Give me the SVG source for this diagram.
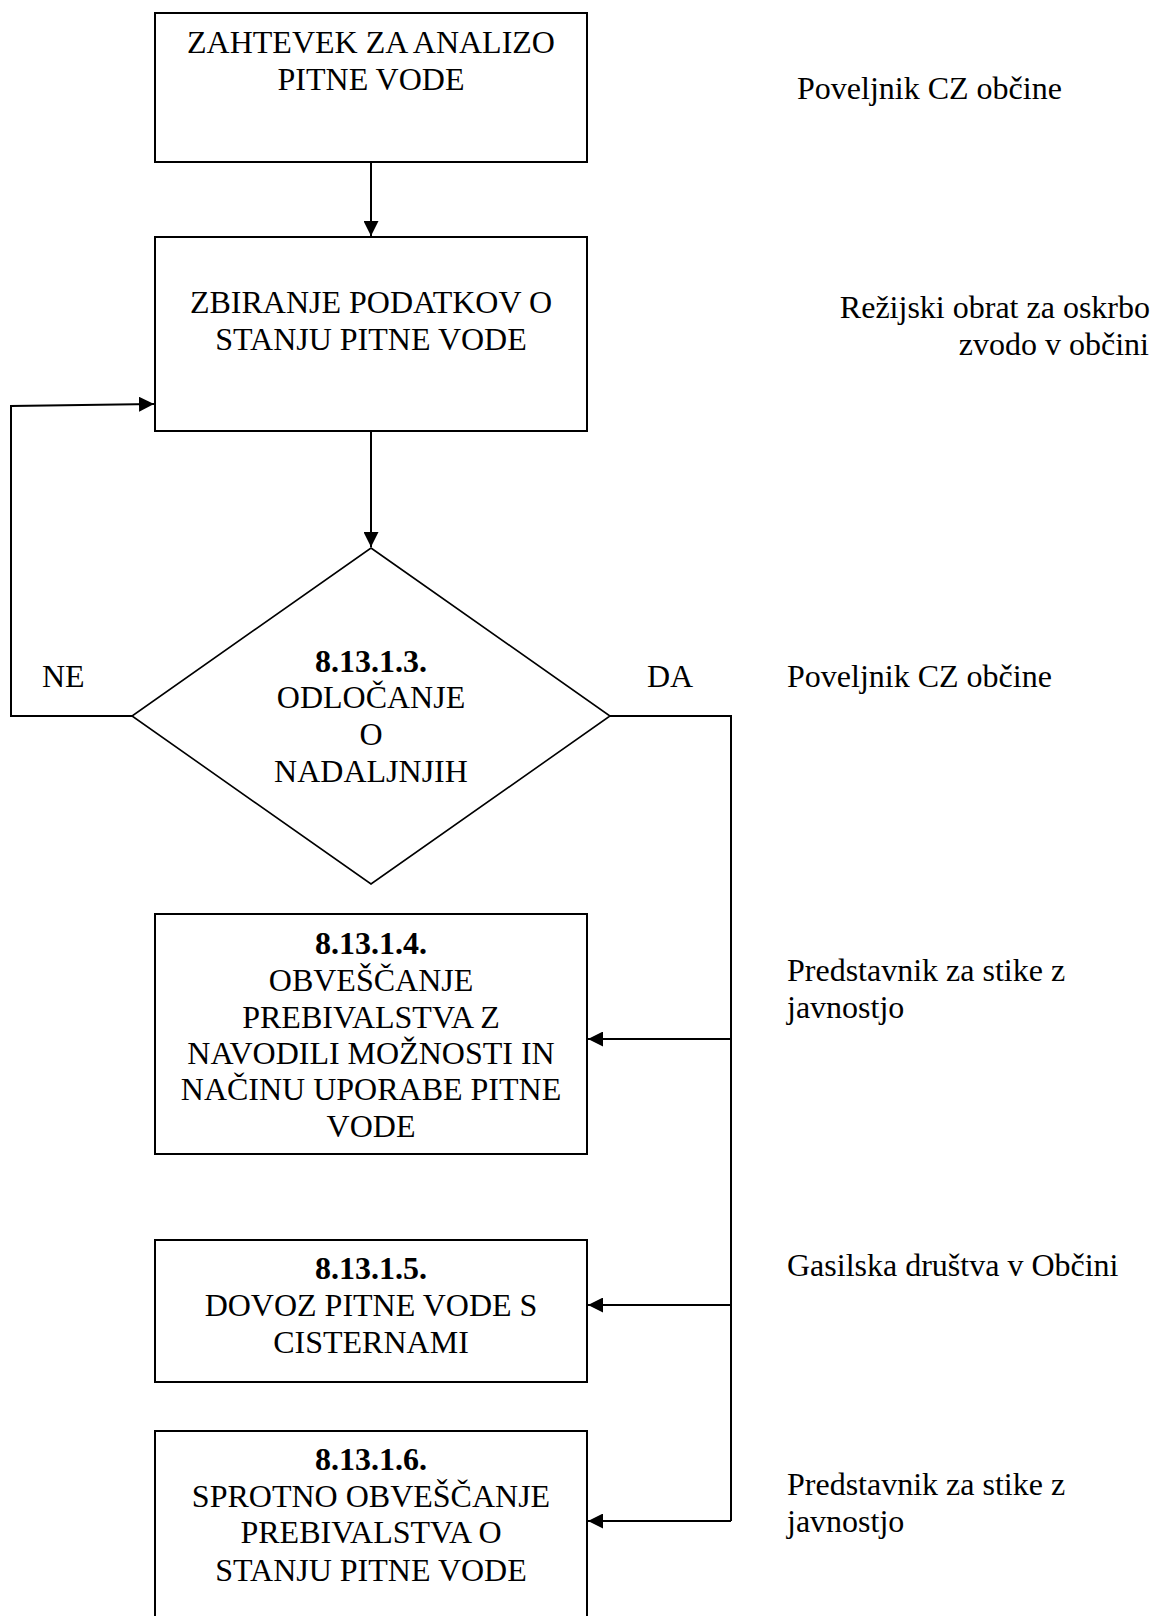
<svg xmlns="http://www.w3.org/2000/svg" width="1153" height="1616" viewBox="0 0 1153 1616">
<style>
.box{fill:#fff;stroke:#000;stroke-width:2}
.dia{fill:#fff;stroke:#000;stroke-width:1.6}
.ln{fill:none;stroke:#000;stroke-width:2}
text{font-family:"Liberation Serif","Times New Roman",serif;font-size:32px;fill:#000}
.c{text-anchor:middle}
.r{text-anchor:end}
.b{font-weight:bold}
</style>
<defs>
<marker id="ah" markerWidth="15" markerHeight="15" refX="15" refY="7.5" orient="auto" markerUnits="userSpaceOnUse">
<path d="M0,0 L15,7.5 L0,15 Z" fill="#000"/>
</marker>
</defs>
<rect width="1153" height="1616" fill="#fff"/>
<g id="connectors">
<line class="ln" x1="371" y1="162" x2="371" y2="236" marker-end="url(#ah)"/>
<line class="ln" x1="371" y1="431" x2="371" y2="547" marker-end="url(#ah)"/>
<polyline class="ln" points="132,716 11,716 11,406 154,404" marker-end="url(#ah)"/>
<polyline class="ln" points="610,716 731,716 731,1521"/>
<line class="ln" x1="731" y1="1039" x2="588" y2="1039" marker-end="url(#ah)"/>
<line class="ln" x1="731" y1="1305" x2="588" y2="1305" marker-end="url(#ah)"/>
<line class="ln" x1="731" y1="1521" x2="588" y2="1521" marker-end="url(#ah)"/>
</g>
<g id="n1">
<rect class="box" x="155" y="13" width="432" height="149"/>
<text class="c" x="371" y="53">ZAHTEVEK ZA ANALIZO</text>
<text class="c" x="371" y="90">PITNE VODE</text>
</g>
<g id="n2">
<rect class="box" x="155" y="237" width="432" height="194"/>
<text class="c" x="371" y="313">ZBIRANJE PODATKOV O</text>
<text class="c" x="371" y="350">STANJU PITNE VODE</text>
</g>
<g id="n3">
<polygon class="dia" points="371,548 610,716 371,884 132,716"/>
<text class="c b" x="371" y="672">8.13.1.3.</text>
<text class="c" x="371" y="708">ODLOČANJE</text>
<text class="c" x="371" y="745">O</text>
<text class="c" x="371" y="782">NADALJNJIH</text>
</g>
<g id="n4">
<rect class="box" x="155" y="914" width="432" height="240"/>
<text class="c b" x="371" y="954">8.13.1.4.</text>
<text class="c" x="371" y="991">OBVEŠČANJE</text>
<text class="c" x="371" y="1028">PREBIVALSTVA Z</text>
<text class="c" x="371" y="1064">NAVODILI MOŽNOSTI IN</text>
<text class="c" x="371" y="1100">NAČINU UPORABE PITNE</text>
<text class="c" x="371" y="1137">VODE</text>
</g>
<g id="n5">
<rect class="box" x="155" y="1240" width="432" height="142"/>
<text class="c b" x="371" y="1279">8.13.1.5.</text>
<text class="c" x="371" y="1316">DOVOZ PITNE VODE S</text>
<text class="c" x="371" y="1353">CISTERNAMI</text>
</g>
<g id="n6">
<rect class="box" x="155" y="1431" width="432" height="220"/>
<text class="c b" x="371" y="1470">8.13.1.6.</text>
<text class="c" x="371" y="1507">SPROTNO OBVEŠČANJE</text>
<text class="c" x="371" y="1543">PREBIVALSTVA O</text>
<text class="c" x="371" y="1581">STANJU PITNE VODE</text>
</g>
<g id="labels">
<text x="42" y="687">NE</text>
<text x="647" y="687">DA</text>
<text x="797" y="99">Poveljnik CZ občine</text>
<text class="r" x="1150" y="318">Režijski obrat za oskrbo</text>
<text class="r" x="1149" y="355">zvodo v občini</text>
<text x="787" y="687">Poveljnik CZ občine</text>
<text x="787" y="981">Predstavnik za stike z</text>
<text x="787" y="1018">javnostjo</text>
<text x="787" y="1276">Gasilska društva v Občini</text>
<text x="787" y="1495">Predstavnik za stike z</text>
<text x="787" y="1532">javnostjo</text>
</g>
</svg>
